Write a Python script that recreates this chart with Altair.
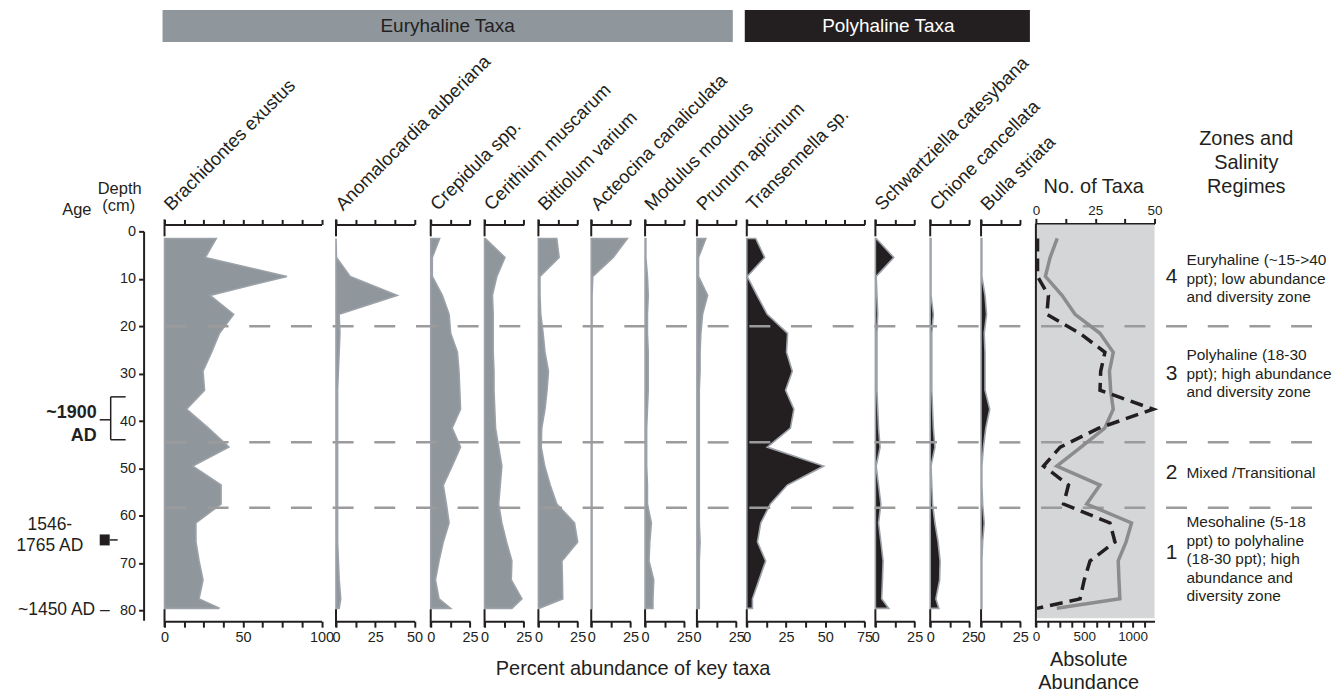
import altair as alt
import pandas as pd

FONT = "Liberation Sans"
INK = "#231f20"
GRAY_FILL = "#8f969c"
OUTLINE = "#9ca2a8"
DASH_COLOR = "#9b9b9b"
TAXA_BG = "#d5d6d8"

# ---------------- data ----------------
depth = [1.5, 5.5, 9.5, 13.5, 17.5, 21.5, 25.5, 29.5, 33.5, 37.5, 41.5,
         45.5, 49.5, 53.5, 57.5, 61.5, 65.5, 69.5, 73.5, 77.5, 79.5]

brachidontes = [33, 26, 78, 29, 44, 35, 30, 24.5, 25.5, 14, 28, 41, 18, 36, 36, 20, 20, 22, 24.5, 22, 35]
anomalocardia = [0, 0.3, 9, 39, 2, 2.5, 2, 1.5, 1, 1, 1, 1, 1, 1, 1, 1, 1, 1.5, 2, 3, 2]
crepidula = [5.7, 1, 1, 7.4, 11.7, 12.7, 17, 18, 18.5, 19, 13.6, 19, 13.6, 8, 10, 11.7, 8, 5.3, 3, 5.3, 12.7]
cerithium = [0.5, 13, 7.8, 5, 5.5, 5.5, 5.5, 6, 6, 6.5, 7, 9, 11, 10, 9, 11, 14, 17.4, 17, 23.8, 17.4]
bittiolum = [11.7, 13.2, 1, 1, 1.5, 3, 4.2, 6.4, 5.5, 4.2, 2.1, 1.8, 4, 7.5, 11.7, 23, 25, 15, 15.3, 15.5, 0.3]
acteocina = [23, 14, 1, 0.5, 0.5, 0.5, 0.5, 0.5, 0.5, 0.5, 0.5, 0.5, 0.5, 0.5, 0.5, 0.5, 0.5, 0.5, 0.5, 0.5, 0.5]
modulus = [0.5, 0.5, 1.5, 2, 1.5, 1.5, 2, 2, 2, 1.5, 1, 1, 1, 1.5, 1.5, 4, 3, 2.5, 5.5, 5, 5]
prunum = [5.7, 1, 1, 6.8, 3.6, 2.5, 2, 2, 1.5, 1.5, 1.5, 1.5, 1.5, 1.5, 1.5, 1.5, 2, 1.5, 1.5, 1.5, 1.5]
transennella = [5.7, 11.4, 0.3, 6.5, 13, 26, 25.3, 29, 24.7, 30, 27.8, 13, 49, 25.8, 15, 8.9, 6.8, 12, 7.8, 3.6, 3.6]
schwartziella = [0.5, 11.7, 0.5, 1, 1.5, 1, 1, 1, 1, 1.5, 2, 3, 0.5, 2, 3.5, 2, 3.5, 4.9, 4.5, 4, 8.5]
chione = [0.5, 0.5, 0.5, 0.5, 2, 1, 1, 1, 1, 1.5, 2, 3, 0.5, 1, 1.5, 3, 5, 6.3, 6, 3.6, 5.5]
bulla = [0.5, 0.5, 0.5, 2.5, 3.5, 2, 2.5, 2.5, 2.5, 5.5, 3, 1.5, 0.5, 0.5, 1, 2, 1, 0.5, 0.5, 0.5, 0.5]

no_of_taxa = [9, 6, 4, 11, 16.5, 27, 32.6, 31, 31.5, 32.6, 29, 19, 8.8, 27, 21.4, 40.3, 38, 34.7, 35, 35.4, 8.8]
absolute_abundance = [17, 17, 17, 130, 113, 454, 714, 670, 663, 1213, 650, 252, 79, 337, 286, 766, 818, 560, 500, 457, 10]

taxon_names = ["Brachidontes exustus", "Anomalocardia auberiana", "Crepidula spp.",
               "Cerithium muscarum", "Bittiolum varium", "Acteocina canaliculata",
               "Modulus modulus", "Prunum apicinum", "Transennella sp.",
               "Schwartziella catesybana", "Chione cancellata", "Bulla striata"]
taxon_values = [brachidontes, anomalocardia, crepidula, cerithium, bittiolum, acteocina,
                modulus, prunum, transennella, schwartziella, chione, bulla]
taxon_max = [100, 50, 25, 25, 25, 25, 25, 25, 75, 25, 25, 25]
taxon_group = ["eury"] * 8 + ["poly"] * 4

zone_bounds = [20, 44.5, 58.3]
zone_numbers = ["4", "3", "2", "1"]
zone_number_depth = [9.7, 30.1, 50.9, 67.8]
zone_text_first_line_depth = [6.1, 26.1, 50.9, 61.4]
zone_texts = ["Euryhaline (~15->40\nppt); low abundance\nand diversity zone",
              "Polyhaline (18-30\nppt); high abundance\nand diversity zone",
              "Mixed /Transitional",
              "Mesohaline (5-18\nppt) to polyhaline\n(18-30 ppt); high\nabundance and\ndiversity zone"]

depth_ticks = [0, 10, 20, 30, 40, 50, 60, 70, 80]

# ---------------- layout constants ----------------
PANEL_STARTS = [165, 337, 432, 486, 540, 593, 647, 699, 749, 878, 933, 984, 1039, 1158]
PX_PER_PCT = 1.575
H = 390
DEPTH_MAX = 82
TAXA_W = 119
ZONE_W = 165
DASH = [21, 20.8]
DASH_PHASE = -1.4

def yscale():
    return alt.Scale(domain=[0, DEPTH_MAX], reverse=True, nice=False, zero=False)

def dash_layer(global_x, width):
    return alt.Chart(pd.DataFrame({"depth": zone_bounds})).mark_rule(
        color=DASH_COLOR, strokeWidth=2.5, strokeDash=DASH,
        strokeDashOffset=global_x + DASH_PHASE
    ).encode(
        y=alt.Y("depth:Q", scale=yscale(), axis=None),
        x=alt.value(0), x2=alt.value(width))

one = pd.DataFrame({"k": [0]})

def text_layer(txt, x, y, size, align="center", weight="normal", color=INK, baseline="middle",
               angle=0, lh=None):
    kw = dict(align=align, baseline=baseline, fontSize=size, font=FONT, fontWeight=weight,
              color=color, angle=angle)
    if "\n" in txt:
        kw["lineBreak"] = "\n"
        kw["lineHeight"] = lh if lh else size * 1.2
    return alt.Chart(pd.DataFrame({"t": [txt]})).mark_text(**kw).encode(
        x=alt.value(x), y=alt.value(y), text="t:N")

def rule_layer(x, x2, y, y2, width=2, color=INK):
    return alt.Chart(one).mark_rule(color=color, strokeWidth=width).encode(
        x=alt.value(x), x2=alt.value(x2), y=alt.value(y), y2=alt.value(y2))

def rect_layer(x, x2, y, y2, color):
    return alt.Chart(one).mark_rect(color=color).encode(
        x=alt.value(x), x2=alt.value(x2), y=alt.value(y), y2=alt.value(y2))

panels = []
for i, (name, vals, vmax, grp) in enumerate(zip(taxon_names, taxon_values, taxon_max, taxon_group)):
    df = pd.DataFrame({"depth": depth, "value": vals})
    w_data = vmax * PX_PER_PCT
    w_panel = PANEL_STARTS[i + 1] - PANEL_STARTS[i]
    gx = PANEL_STARTS[i] - PANEL_STARTS[0]
    ticks = [k * 12.5 for k in range(int(vmax / 12.5) + 1)]
    step = 50 if vmax >= 100 else 25
    xs = alt.Scale(domain=[0, vmax], range=[0, w_data], nice=False, zero=True)
    bottom_axis = alt.Axis(orient="bottom", values=ticks, offset=1, tickSize=6,
                           labelExpr=f"datum.value % {step} === 0 ? datum.label : ''",
                           labelFlush=False, labelOverlap=False, labelPadding=3, title=None)
    top_axis = alt.Axis(orient="top", values=ticks, offset=7, tickSize=5, labels=False, title=None)
    if i == 0:
        y_axis = alt.Axis(orient="left", values=depth_ticks, offset=21, tickSize=5,
                          labelFontSize=14.5, labelPadding=3, title=None)
    else:
        y_axis = None
    fill = GRAY_FILL if grp == "eury" else INK
    area = alt.Chart(df).mark_area(orient="horizontal", fill=fill, stroke=OUTLINE,
                                   strokeWidth=1.6, strokeJoin="miter").encode(
        x=alt.X("value:Q", scale=xs, axis=bottom_axis),
        y=alt.Y("depth:Q", scale=yscale(), axis=y_axis))
    top = alt.Chart(df).mark_point(opacity=0).encode(
        x=alt.X("value:Q", scale=xs, axis=top_axis),
        y=alt.Y("depth:Q", scale=yscale(), axis=None))
    layers = [area, dash_layer(gx, w_panel), top,
              rule_layer(0, 0, -12, 5), rule_layer(0, 0, H - 11, H + 7),
              text_layer(name, 7, -20, 18.5, align="left", baseline="alphabetic", angle=315)]
    if i == 0:
        layers += [
            rect_layer(-157, -156, -223, -222, "white"),  # layout anchor
            # group header bars
            rect_layer(-2, 570, -222, -190, GRAY_FILL),
            text_layer("Euryhaline Taxa", 284, -206, 19),
            rect_layer(582, 868, -222, -190, INK),
            text_layer("Polyhaline Taxa", 726, -206, 19, color="white"),
            # depth / age titles
            text_layer("Depth", -45, -42, 16.5),
            text_layer("(cm)", -46, -25, 16.5),
            text_layer("Age", -88, -21, 16.5),
            # age annotations
            text_layer("~1900\nAD", -68, 182, 18, align="right", weight="bold", lh=23),
            rule_layer(-65, -54, 189, 189, width=1.5),
            rule_layer(-54, -54, 166, 209, width=1.5),
            rule_layer(-54, -39, 166, 166, width=1.5),
            rule_layer(-54, -39, 209, 209, width=1.5),
            text_layer("1546-\n1765 AD", -115, 295, 17.5, lh=21),
            rect_layer(-65, -55, 304, 315, INK),
            rule_layer(-55, -47, 309.5, 309.5, width=1.5),
            text_layer("~1450 AD \u2013", -55, 380, 17.5, align="right"),
            # common x title
            text_layer("Percent abundance of key taxa", 470, 439, 20),
        ]
    panels.append(alt.layer(*layers).properties(width=w_panel, height=H)
                  .resolve_axis(x="independent", y="independent"))

# ---------------- No. of taxa / absolute abundance panel ----------------
df_t = pd.DataFrame({"depth": depth, "taxa": no_of_taxa, "abund": absolute_abundance})
gx_t = PANEL_STARTS[12] - PANEL_STARTS[0]
taxa_scale = alt.Scale(domain=[0, 50], range=[0, TAXA_W], nice=False)
abund_scale = alt.Scale(domain=[0, 1227], range=[0, TAXA_W], nice=False)
taxa_axis = alt.Axis(orient="top", values=[0, 12.5, 25, 37.5, 50], offset=8, tickSize=5,
                     labelExpr="datum.value % 25 === 0 ? datum.label : ''", labelFontSize=13.5,
                     labelFlush=False, labelOverlap=False, labelPadding=1, title=None)
abund_axis = alt.Axis(orient="bottom", values=[k * 125 for k in range(10)], offset=1, tickSize=6,
                      format="d",
                      labelExpr="datum.value % 500 === 0 ? datum.label : ''", labelFontSize=13.5,
                      labelFlush=False, labelOverlap=False, labelPadding=2, title=None)
taxa_line = alt.Chart(df_t).mark_line(color="#8c8c8c", strokeWidth=3.5).encode(
    x=alt.X("taxa:Q", scale=taxa_scale, axis=taxa_axis),
    y=alt.Y("depth:Q", scale=yscale(), axis=None),
    order="depth:Q")
abund_line = alt.Chart(df_t).mark_line(color=INK, strokeWidth=3.5, strokeDash=[13, 7]).encode(
    x=alt.X("abund:Q", scale=abund_scale, axis=abund_axis),
    y=alt.Y("depth:Q", scale=yscale(), axis=None),
    order="depth:Q")
taxa_panel = alt.layer(
    rect_layer(0, TAXA_W, -7, H - 2, TAXA_BG),
    dash_layer(gx_t, TAXA_W),
    rule_layer(0, 0, -8, H + 7),
    taxa_line, abund_line,
    text_layer("No. of Taxa", 58, -44, 20),
    text_layer("Absolute\nAbundance", 53, 430, 20, lh=23),
).properties(width=TAXA_W, height=H).resolve_scale(x="independent").resolve_axis(x="independent")
panels.append(taxa_panel)

# ---------------- zones panel ----------------
gx_z = PANEL_STARTS[13] - PANEL_STARTS[0]
df_zn = pd.DataFrame({"n": zone_numbers, "depth": zone_number_depth})
df_zt = pd.DataFrame({"t": zone_texts, "depth": zone_text_first_line_depth})
zone_num = alt.Chart(df_zn).mark_text(fontSize=21, font=FONT, color=INK, align="center",
                                       baseline="middle").encode(
    x=alt.value(17), y=alt.Y("depth:Q", scale=yscale(), axis=None), text="n:N")
zone_txt = alt.Chart(df_zt).mark_text(fontSize=15.5, font=FONT, color=INK, align="left",
                                       baseline="middle", lineBreak="\n", lineHeight=18.5).encode(
    x=alt.value(32), y=alt.Y("depth:Q", scale=yscale(), axis=None), text="t:N")
zone_panel = alt.layer(
    dash_layer(gx_z, 159),
    zone_num, zone_txt,
    text_layer("Zones and\nSalinity\nRegimes", 92, -93, 20, lh=24.5),
).properties(width=ZONE_W, height=H)
panels.append(zone_panel)

chart = alt.hconcat(*panels, spacing=0, bounds="flush").resolve_scale(
    x="independent", y="independent"
).properties(
    padding={"left": 0, "top": 0, "right": 0, "bottom": 0}
).configure_view(stroke=None).configure_axis(
    domainColor=INK, domainWidth=2, tickColor=INK, tickWidth=2,
    labelColor=INK, labelFont=FONT, labelFontSize=14.5, grid=False
)

chart.save("out.html", embed_options={"renderer": "svg", "actions": False})
